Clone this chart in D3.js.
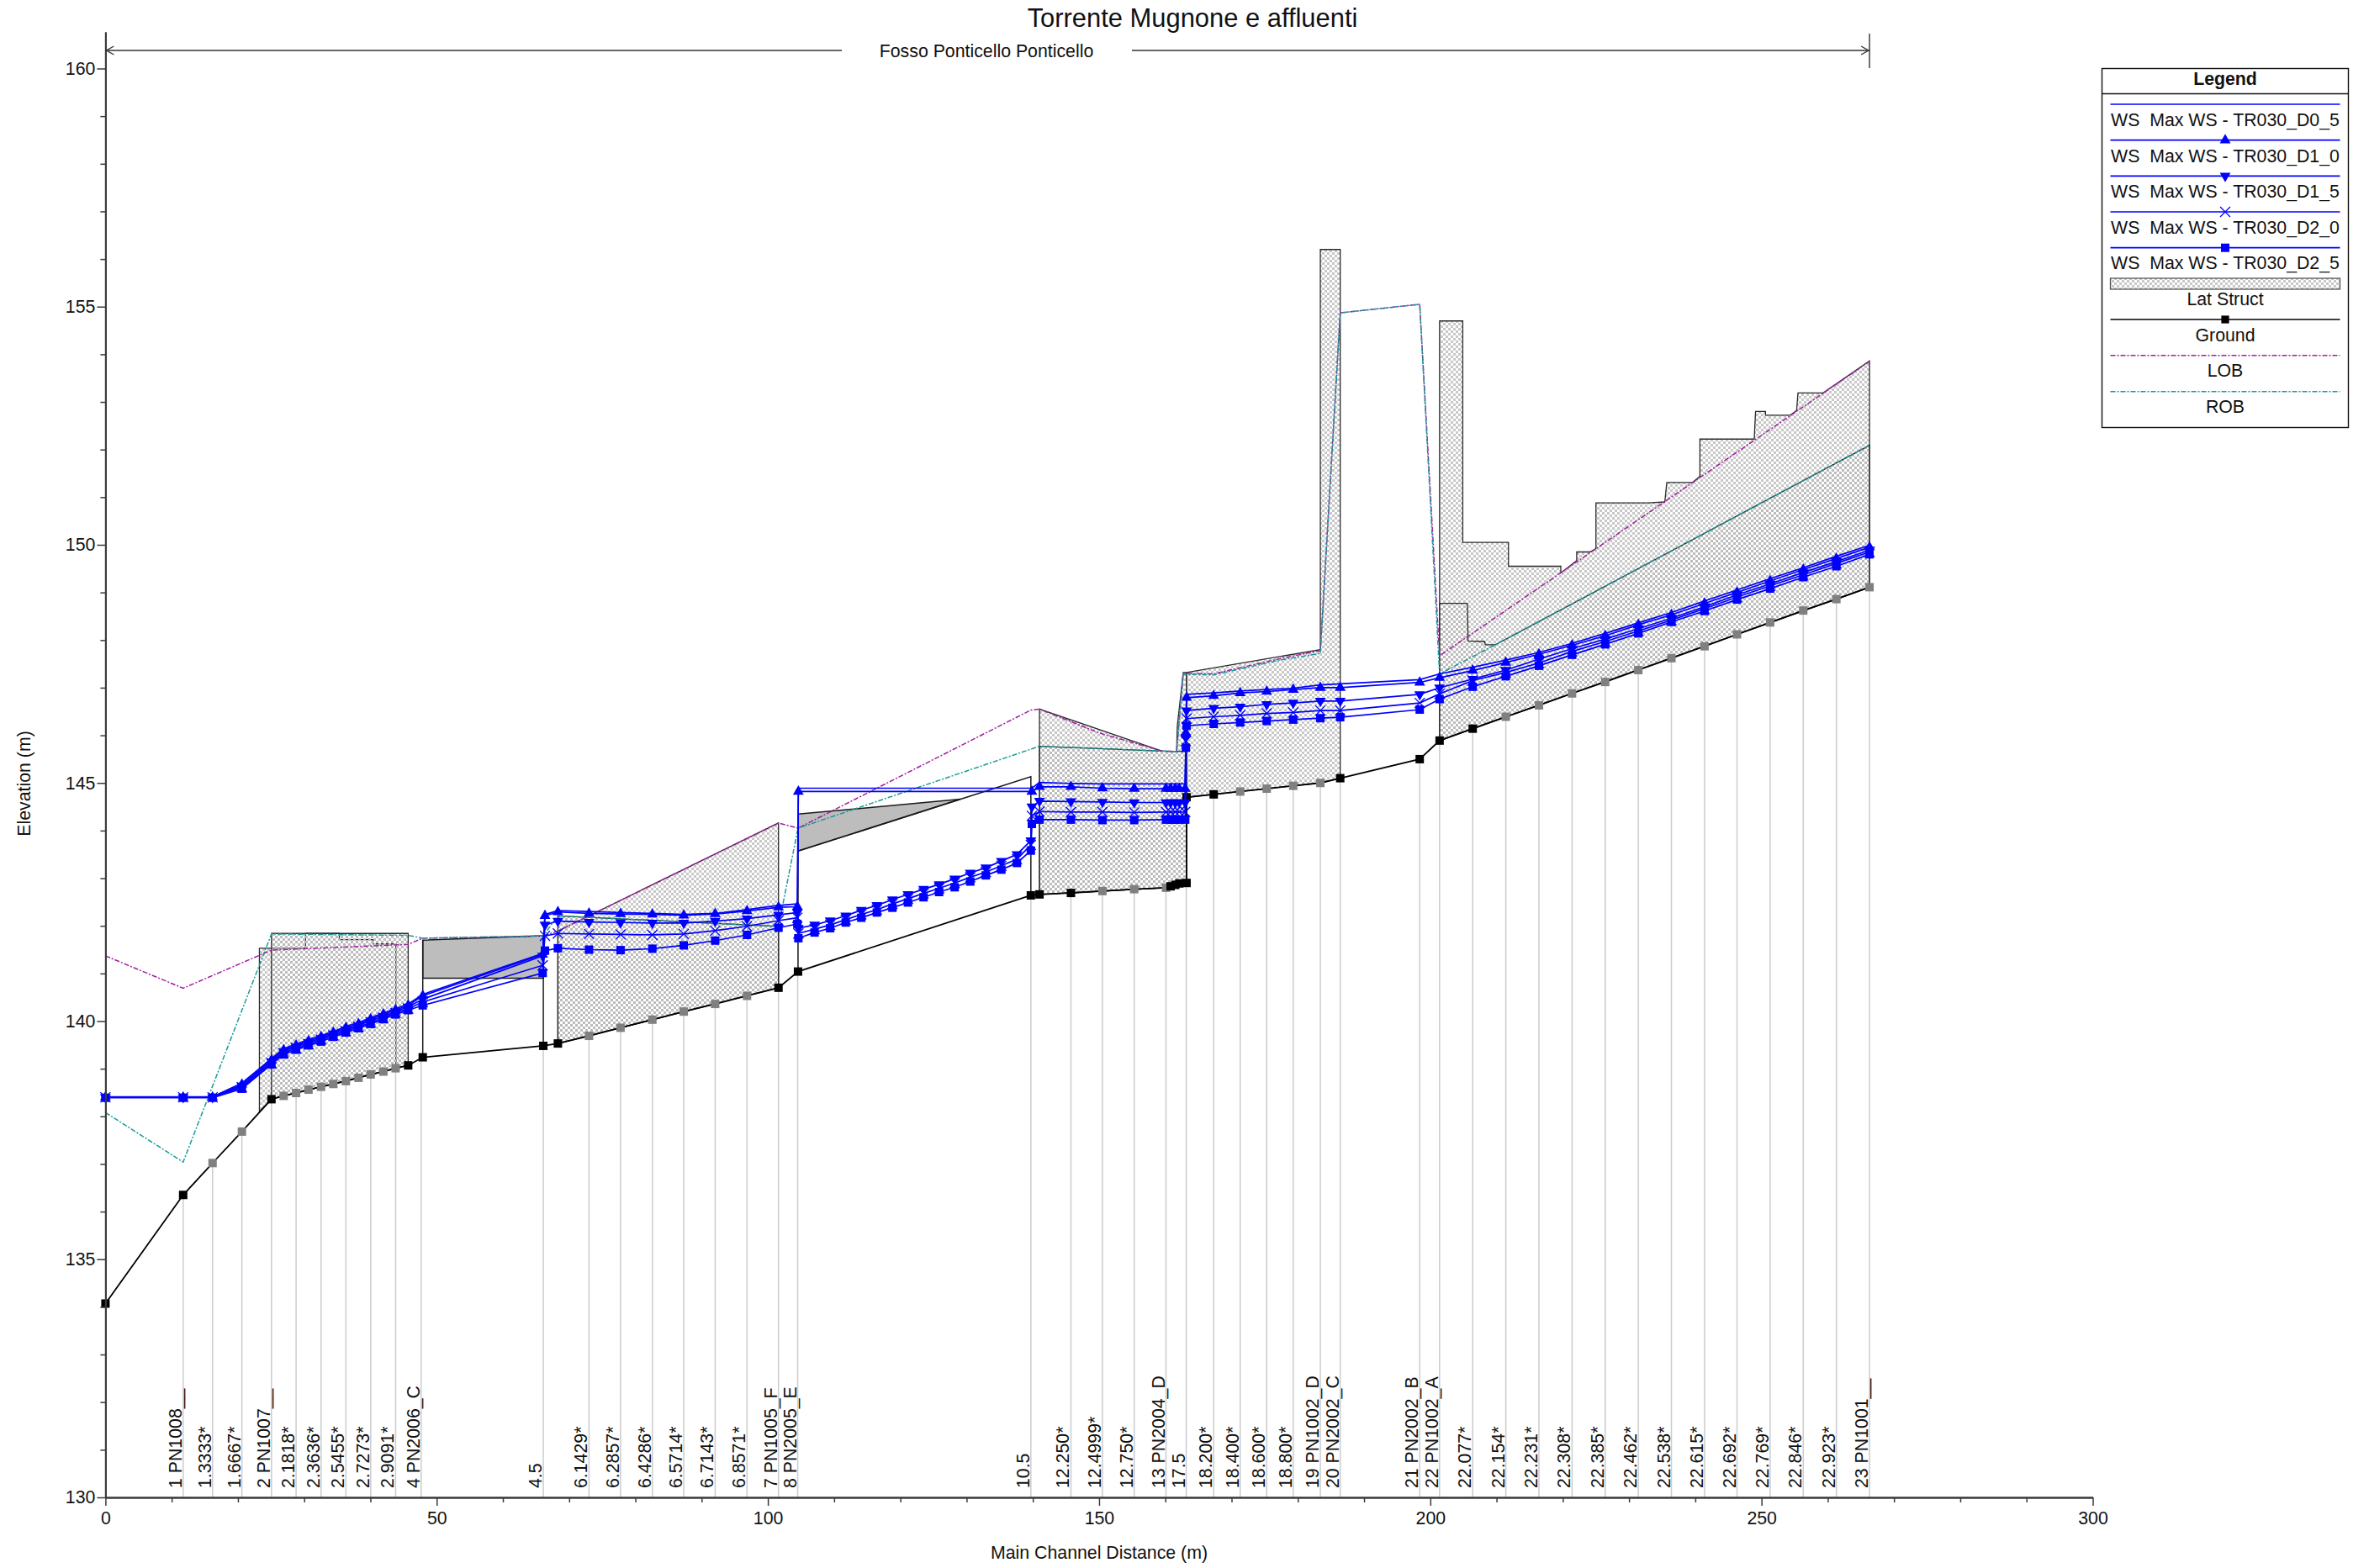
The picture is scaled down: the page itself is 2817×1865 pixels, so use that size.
<!DOCTYPE html>
<html>
<head>
<meta charset="utf-8">
<title>Torrente Mugnone e affluenti</title>
<script src="https://d3js.org/d3.v7.min.js"></script>
<style>
html,body{margin:0;padding:0;background:#fff}
svg{display:block}
text{font-family:"Liberation Sans",Arial,sans-serif;fill:#111;white-space:pre}
</style>
</head>
<body>
<svg id="chart" width="2817" height="1865"></svg>
<script>
const chartTitle = "Torrente Mugnone e affluenti";
const reachName = "Fosso Ponticello Ponticello";
const xTitle = "Main Channel Distance (m)";
const yTitle = "Elevation (m)";
const xMajor = [0,50,100,150,200,250,300];
const yMajor = [130,135,140,145,150,155,160];

// Ground profile: black = cross section, grey = interpolated, none = hidden marker
const groundX = [0,11.73,16.17,20.6,25.06,26.9,28.78,30.65,32.55,34.4,36.3,38.2,40.04,41.95,43.8,45.7,47.9,66.1,68.3,73,77.76,82.56,87.3,92.04,96.85,101.6,104.55,139.7,141,145.75,150.5,155.3,160.1,160.8,161.5,162.1,163.2,163.2,167.3,171.3,175.3,179.3,183.4,186.4,198.4,201.4,206.4,211.4,216.4,221.4,226.4,231.4,236.4,241.4,246.3,251.3,256.3,261.3,266.3];
const groundY = [134.07,136.35,137.02,137.68,138.36,138.43,138.49,138.56,138.62,138.68,138.74,138.81,138.88,138.94,139.01,139.07,139.24,139.48,139.53,139.69,139.86,140.03,140.2,140.36,140.53,140.7,141.04,142.64,142.66,142.69,142.73,142.77,142.8,142.83,142.86,142.89,142.9,144.7,144.76,144.82,144.88,144.94,145.0,145.1,145.5,145.89,146.14,146.39,146.63,146.88,147.12,147.37,147.62,147.87,148.12,148.37,148.62,148.86,149.11];
const groundKind = "bbggbggggggggggbbbbggggggbbbbbgggbbbbbbggggbbbbggggggggggggb".split("");

// Water surface stations
const wsX = [0,11.73,16.17,20.6,25.06,26.9,28.78,30.65,32.55,34.4,36.3,38.2,40.04,41.95,43.8,45.7,47.9,66.0,66.35,68.3,73,77.76,82.56,87.3,92.04,96.85,101.6,104.45,104.6,107.05,109.4,111.75,114.1,116.45,118.8,121.15,123.5,125.85,128.2,130.55,132.9,135.25,137.6,139.7,139.85,141,145.75,150.5,155.3,160.1,160.8,161.5,162.1,163.0,163.1,163.2,167.3,171.3,175.3,179.3,183.4,186.4,198.4,201.4,206.4,211.4,216.4,221.4,226.4,231.4,236.4,241.4,246.3,251.3,256.3,261.3,266.3];
const wsD05 = [138.41,138.41,138.41,138.7,139.21,139.42,139.52,139.61,139.7,139.78,139.89,139.97,140.07,140.17,140.26,140.36,140.56,141.42,142.24,142.32,142.3,142.28,142.26,142.24,142.26,142.34,142.43,142.46,144.89,null,null,null,null,null,null,null,null,null,null,null,null,null,null,null,144.89,145.01,144.99,144.98,144.98,144.98,144.98,144.98,144.98,144.98,146.1,146.86,146.89,146.93,146.96,146.99,147.06,147.08,147.17,147.29,147.43,147.58,147.74,147.93,148.14,148.36,148.58,148.82,149.05,149.29,149.52,149.76,149.99];
const wsD10 = [138.4,138.4,138.4,138.67,139.18,139.39,139.49,139.58,139.67,139.76,139.86,139.94,140.04,140.14,140.23,140.33,140.53,141.4,142.21,142.29,142.26,142.25,142.24,142.22,142.25,142.31,142.39,142.4,144.82,null,null,null,null,null,null,null,null,null,null,null,null,null,null,null,144.82,144.92,144.92,144.89,144.88,144.88,144.88,144.88,144.88,144.88,146.05,146.79,146.83,146.89,146.92,146.96,147,147,147.11,147.21,147.36,147.53,147.7,147.89,148.09,148.32,148.53,148.77,149,149.24,149.48,149.71,149.95];
const wsD15 = [138.4,138.4,138.4,138.64,139.15,139.36,139.46,139.55,139.64,139.73,139.82,139.91,140.01,140.1,140.2,140.3,140.46,141.37,142.02,142.1,142.08,142.07,142.06,142.06,142.1,142.15,142.23,142.28,141.95,142.02,142.11,142.21,142.33,142.43,142.55,142.66,142.77,142.87,142.99,143.11,143.22,143.36,143.5,143.79,144.5,144.62,144.61,144.6,144.59,144.59,144.59,144.59,144.59,144.59,145.96,146.52,146.57,146.6,146.65,146.68,146.72,146.72,146.86,147,147.18,147.37,147.6,147.82,148.02,148.24,148.46,148.7,148.95,149.18,149.42,149.65,149.89];
const wsD20 = [138.4,138.4,138.4,138.61,139.12,139.33,139.43,139.52,139.61,139.7,139.79,139.88,139.97,140.07,140.17,140.26,140.4,141.17,141.79,141.84,141.83,141.82,141.81,141.83,141.9,141.99,142.11,142.17,141.84,141.93,142.02,142.13,142.24,142.34,142.46,142.57,142.68,142.79,142.9,143.02,143.13,143.26,143.4,143.7,144.31,144.4,144.39,144.39,144.38,144.39,144.39,144.39,144.39,144.39,145.88,146.35,146.39,146.42,146.46,146.48,146.52,146.52,146.68,146.87,147.15,147.32,147.52,147.76,147.97,148.19,148.42,148.66,148.9,149.14,149.37,149.61,149.85];
const wsD25 = [138.39,138.39,138.39,138.58,139.09,139.3,139.4,139.49,139.57,139.67,139.76,139.85,139.94,140.04,140.14,140.23,140.33,141.01,141.48,141.53,141.5,141.49,141.52,141.59,141.69,141.81,141.96,142.04,141.74,141.86,141.95,142.07,142.17,142.28,142.38,142.49,142.6,142.71,142.81,142.93,143.06,143.18,143.32,143.58,144.14,144.23,144.23,144.22,144.22,144.23,144.23,144.23,144.23,144.23,145.74,146.2,146.24,146.27,146.3,146.33,146.36,146.38,146.54,146.76,147.02,147.24,147.46,147.69,147.91,148.14,148.38,148.61,148.85,149.08,149.32,149.55,149.8];

// Bank stations
const lobX = [0,11.73,25.06,45.7,47.9,66.1,68.3,101.6,104.55,139.7,141,150,159.5,161.7,162.7,167.3,177.3,183.4,186.4,198.4,201.4,266.3];
const lobY = [141.37,140.69,141.49,141.61,141.74,141.79,141.89,144.16,144.05,146.53,146.55,146.05,145.67,145.66,147.3,147.29,147.61,147.78,154.87,155.05,147.67,153.85];
const robX = [0,11.73,25.06,45.7,47.9,66.1,68.3,101.6,104.55,141,159.5,161.7,162.7,167.3,177.3,183.4,186.4,198.4,201.4,209.8,266.3];
const robY = [138.08,137.04,141.83,141.8,141.74,141.79,142.21,141.99,144.05,145.77,145.67,145.66,147.28,147.27,147.58,147.72,154.87,155.05,147.29,147.9,152.09];

// Lateral structures (hatched)
const latA = [[23.24,141.53],[30.2,141.53],[30.2,141.84],[35.3,141.84],[35.3,141.71],[40.4,141.71],[40.4,141.62],[43.85,141.62],[43.85,139.01],[41.95,138.94],[38.2,138.81],[34.4,138.68],[30.65,138.56],[26.9,138.43],[25.06,138.36],[23.24,138.1]];
const latB = [[25.06,141.84],[45.7,141.84],[45.7,139.07],[43.8,139.01],[38.2,138.81],[32.55,138.62],[26.9,138.43],[25.06,138.36]];
const latC = [[68.3,141.89],[101.6,144.16],[101.6,140.7],[68.3,139.53]];
const latC2 = [[68.3,142.21],[101.6,141.99],[101.6,140.7],[68.3,139.53]];
const latD = [[141,146.55],[159.5,145.67],[161.7,145.66],[161.8,146.19],[162.7,147.32],[163.2,147.32],[163.2,142.9],[160.1,142.8],[141,142.66]];
const latD2 = [[141,145.77],[159.5,145.67],[163.2,145.66],[163.2,142.9],[160.1,142.8],[141,142.66]];
const latE = [[163.2,147.32],[183.4,147.8],[183.4,156.2],[186.4,156.2],[186.4,145.1],[183.4,145.0],[163.2,144.7]];
const latF = [[201.4,154.7],[204.9,154.7],[204.9,150.05],[211.8,150.05],[211.8,149.55],[219.7,149.55],[219.7,149.41],[222.1,149.67],[222.1,149.85],[224.1,149.85],[225,149.92],[225,150.88],[232.9,150.88],[235.4,150.9],[235.7,151.31],[239.6,151.31],[240.7,151.44],[240.7,152.22],[248.9,152.22],[249.1,152.8],[250.6,152.8],[250.6,152.72],[254.3,152.72],[255.3,152.82],[255.5,153.19],[259.3,153.19],[266.3,153.86],[266.3,149.11],[201.4,145.89]];
const latF2 = [[201.4,148.77],[205.6,148.77],[205.7,147.98],[208.2,147.97],[208.3,147.9],[209.8,147.9],[266.3,152.09],[266.3,149.11],[201.4,145.89]];
const latOuter = [latA,latC,latD,latE,latF];
const latInner = [latB,latC2,latD2,latF2];

// Lateral structures (solid grey)
const solidG = [[47.9,141.7],[66.1,141.79],[66.1,140.9],[47.9,140.9]];
const solidH = [[104.55,144.345],[129.1,144.66],[104.55,143.57]];
const solidPolys = [solidG,solidH];
const latEdges = [
  [[47.9,139.24],[47.9,141.7]],
  [[66.1,139.48],[66.1,141.79]],
  [[104.55,141.04],[104.55,144.345]],
  [[129.1,144.66],[139.7,145.13],[139.7,142.64]],
  [[104.55,143.57],[129.1,144.66]]
];

const stationLabels = ["1 PN1008__","1.3333*","1.6667*","2 PN1007__","2.1818*","2.3636*","2.5455*","2.7273*","2.9091*","4 PN2006_C","4.5","6.1429*","6.2857*","6.4286*","6.5714*","6.7143*","6.8571*","7 PN1005_F","8 PN2005_E","10.5","12.250*","12.4999*","12.750*","13 PN2004_D","17.5","18.200*","18.400*","18.600*","18.800*","19 PN1002_D","20 PN2002_C","21 PN2002_B","22 PN1002_A","22.077*","22.154*","22.231*","22.308*","22.385*","22.462*","22.538*","22.615*","22.692*","22.769*","22.846*","22.923*","23 PN1001__"];
const stationLabelX = [11.73,16.17,20.6,25.06,28.78,32.55,36.3,40.04,43.8,47.65,66.1,73,77.76,82.56,87.3,92.04,96.85,101.6,104.5,139.7,145.75,150.5,155.3,160.1,163.15,167.3,171.3,175.3,179.3,183.4,186.4,198.4,201.4,206.4,211.4,216.4,221.4,226.4,231.4,236.4,241.4,246.3,251.3,256.3,261.3,266.3];
const stationLabelFloor = [136.35,137.02,137.68,138.36,138.49,138.62,138.74,138.88,139.01,139.24,139.48,139.69,139.86,140.03,140.2,140.36,140.53,140.7,141.04,142.64,142.69,142.73,142.77,142.8,144.7,144.76,144.82,144.88,144.94,145,145.1,145.5,145.89,146.14,146.39,146.63,146.88,147.12,147.37,147.62,147.87,148.12,148.37,148.62,148.86,149.11];

const legendWS = ["WS  Max WS - TR030_D0_5","WS  Max WS - TR030_D1_0","WS  Max WS - TR030_D1_5","WS  Max WS - TR030_D2_0","WS  Max WS - TR030_D2_5"];

// ------------------------------------------------------------
const BLUE = "#0000ff", LOBC = "#a0209f", ROBC = "#1a9a9a", INK = "#3a3a3a";
const FS = 21.3;
const svg = d3.select("#chart");
const x = d3.scaleLinear().domain([0,300]).range([125.4,2488.5]);
const y = d3.scaleLinear().domain([130,160]).range([1781,81.5]);
const yTop = 38;

const defs = svg.append("defs");
function checker(id,colour){
  const p = defs.append("pattern").attr("id",id).attr("patternUnits","userSpaceOnUse").attr("width",6).attr("height",6);
  p.append("rect").attr("width",3).attr("height",3).attr("fill",colour).attr("shape-rendering","crispEdges");
  p.append("rect").attr("x",3).attr("y",3).attr("width",3).attr("height",3).attr("fill",colour).attr("shape-rendering","crispEdges");
}
checker("hatch","#c8c8c8");
checker("hatchInner","#bcbcbc");

const polyLine = d3.line().x(d=>x(d[0])).y(d=>y(d[1]));
const closed = pts => polyLine(pts)+"Z";

// hatched structures
svg.append("g").selectAll("path").data(latOuter).join("path")
  .attr("d",closed).attr("fill","url(#hatch)").attr("stroke","#2a2a2a").attr("stroke-width",1.3);
svg.append("g").selectAll("path").data(latInner).join("path")
  .attr("d",closed).attr("fill","url(#hatchInner)").attr("stroke","#2a2a2a").attr("stroke-width",1.3);
// solid structures
svg.append("g").selectAll("path").data(solidPolys).join("path")
  .attr("d",closed).attr("fill","#bdbdbd").attr("stroke","#1a1a1a").attr("stroke-width",1.5);
svg.append("g").selectAll("path").data(latEdges).join("path")
  .attr("d",polyLine).attr("fill","none").attr("stroke","#1a1a1a").attr("stroke-width",1.5);

// station lines
svg.append("g").selectAll("line").data(stationLabelX).join("line")
  .attr("x1",d=>x(d)).attr("x2",d=>x(d))
  .attr("y1",(d,i)=>y(stationLabelFloor[i])).attr("y2",y(130))
  .attr("stroke","#cccccc").attr("stroke-width",1.5);

// LOB / ROB
const pair = (xs,ys)=>xs.map((v,i)=>[v,ys[i]]);
svg.append("path").attr("d",polyLine(pair(lobX,lobY))).attr("fill","none")
  .attr("stroke",LOBC).attr("stroke-width",1.5).attr("stroke-dasharray","6 2 2 2");
svg.append("path").attr("d",polyLine(pair(robX,robY))).attr("fill","none")
  .attr("stroke",ROBC).attr("stroke-width",1.5).attr("stroke-dasharray","6 2 2 2");

// ground
svg.append("path").attr("d",polyLine(pair(groundX,groundY))).attr("fill","none")
  .attr("stroke","#000").attr("stroke-width",1.8);
const sq = d3.symbol(d3.symbolSquare,85)();
const sqG = d3.symbol(d3.symbolSquare,100)();
svg.append("g").selectAll("path").data(groundX.map((v,i)=>({x:v,y:groundY[i],k:groundKind[i]})))
  .join("path").attr("d",sqG)
  .attr("transform",d=>`translate(${x(d.x)},${y(d.y)})`)
  .attr("fill",d=>d.k==="b"?"#000":"#808080");

// water surfaces
const wsSeries = [
  {v:wsD05,m:null},{v:wsD10,m:"up"},{v:wsD15,m:"down"},{v:wsD20,m:"x"},{v:wsD25,m:"sq"}
];
const triPath = d3.symbol(d3.symbolTriangle,72)();
const xPath = d3.symbol(d3.symbolX,95)();
const sqPath = d3.symbol(d3.symbolSquare,100)();
function marker(sel,m){
  if(m==="up") sel.attr("d",triPath).attr("fill",BLUE);
  else if(m==="down") sel.attr("d",triPath).attr("fill",BLUE);
  else if(m==="x") sel.attr("d",xPath).attr("fill","none").attr("stroke",BLUE).attr("stroke-width",1.3);
  else if(m==="sq") sel.attr("d",sqPath).attr("fill",BLUE);
}
wsSeries.forEach(s=>{
  const pts = wsX.map((v,i)=>[v,s.v[i]]).filter(d=>d[1]!==null);
  const g = svg.append("g");
  g.append("path").attr("d",polyLine(pts)).attr("fill","none").attr("stroke",BLUE).attr("stroke-width",1.7);
  if(s.m){
    const r = s.m==="down"?" rotate(180)":"";
    g.selectAll("path.m").data(pts).join("path").attr("class","m")
      .call(marker,s.m)
      .attr("transform",d=>`translate(${x(d[0])},${y(d[1])})${r}`);
  }
});

// axes
const axisStyle = g=>{
  g.selectAll("path.domain").attr("stroke",INK).attr("stroke-width",2);
  g.selectAll(".tick line").attr("stroke",INK).attr("stroke-width",1.5);
  g.selectAll("text").attr("font-size",FS).attr("font-family",'"Liberation Sans",Arial,sans-serif').attr("fill","#111");
};
const xMinorVals = d3.range(0,301,10).filter(v=>!xMajor.includes(v));
const yMinorVals = d3.range(131,161,1).filter(v=>!yMajor.includes(v));
const gx = svg.append("g").attr("transform",`translate(0,${y(130)})`);
gx.call(d3.axisBottom(x).tickValues(xMajor).tickSize(10).tickSizeOuter(0).tickPadding(7)).call(axisStyle);
svg.append("g").attr("transform",`translate(0,${y(130)})`)
  .call(d3.axisBottom(x).tickValues(xMinorVals).tickSize(6).tickSizeOuter(0).tickFormat(""))
  .call(axisStyle);
const yAxisScale = y.copy().domain([130,y.invert(yTop)]).range([y(130),yTop]);
const gy = svg.append("g").attr("transform",`translate(${x(0)},0)`);
gy.call(d3.axisLeft(yAxisScale).tickValues(yMajor).tickSize(10).tickSizeOuter(0).tickPadding(2)).call(axisStyle);
svg.append("g").attr("transform",`translate(${x(0)},0)`)
  .call(d3.axisLeft(yAxisScale).tickValues(yMinorVals).tickSize(6).tickSizeOuter(0).tickFormat(""))
  .call(axisStyle);

// station labels
svg.append("g").selectAll("text").data(stationLabels).join("text")
  .attr("transform",(d,i)=>`translate(${x(stationLabelX[i])-2},1770) rotate(-90)`)
  .attr("font-size",FS).attr("fill","#111").text(d=>d);

// titles
svg.append("text").attr("x",1418).attr("y",32).attr("text-anchor","middle").attr("font-size",30.9).text(chartTitle);
svg.append("text").attr("x",1307).attr("y",1854).attr("text-anchor","middle").attr("font-size",FS).text(xTitle);
svg.append("text").attr("transform","translate(36,932) rotate(-90)").attr("text-anchor","middle").attr("font-size",FS).text(yTitle);

// reach banner
const bannerY = 60, bannerEnd = x(266.3), bannerStart = x(0);
const bannerLine = d3.line();
svg.append("g").selectAll("path").data([
  [[bannerStart,bannerY],[1001,bannerY]],
  [[1346,bannerY],[bannerEnd,bannerY]],
  [[bannerStart+10,bannerY-5],[bannerStart+1,bannerY],[bannerStart+10,bannerY+5]],
  [[bannerEnd-10,bannerY-5],[bannerEnd-1,bannerY],[bannerEnd-10,bannerY+5]],
  [[bannerEnd,40],[bannerEnd,81]]
]).join("path").attr("d",bannerLine).attr("fill","none").attr("stroke","#333").attr("stroke-width",1.4);
svg.append("text").attr("x",1173).attr("y",68).attr("text-anchor","middle").attr("font-size",FS).text(reachName);

// legend
const lg = svg.append("g");
const LX0=2499.5, LX1=2792.5, LY0=81.5, LY1=508.5, LA=2509.5, LB=2782.5, LC=2646;
lg.append("rect").attr("x",LX0).attr("y",LY0).attr("width",LX1-LX0).attr("height",LY1-LY0).attr("fill","#fff").attr("stroke","#111").attr("stroke-width",1.4);
lg.append("line").attr("x1",LX0).attr("x2",LX1).attr("y1",111.5).attr("y2",111.5).attr("stroke","#111").attr("stroke-width",1.3);
lg.append("text").attr("x",LC).attr("y",101).attr("text-anchor","middle").attr("font-size",FS).attr("font-weight","bold").text("Legend");
const legendLineY=[124,166.7,209.3,252,294.7], legendTextY=[150,192.5,235,278,320];
wsSeries.forEach((s,i)=>{
  lg.append("line").attr("x1",LA).attr("x2",LB).attr("y1",legendLineY[i]).attr("y2",legendLineY[i]).attr("stroke",BLUE).attr("stroke-width",1.7);
  if(s.m){
    const r = s.m==="down"?" rotate(180)":"";
    lg.append("path").call(marker,s.m).attr("transform",`translate(${LC},${legendLineY[i]})${r}`);
  }
  lg.append("text").attr("x",LC).attr("y",legendTextY[i]).attr("text-anchor","middle").attr("font-size",FS).text(legendWS[i]);
});
lg.append("rect").attr("x",LA).attr("y",331).attr("width",LB-LA).attr("height",13).attr("fill","url(#hatch)").attr("stroke","#555").attr("stroke-width",1.3);
lg.append("text").attr("x",LC).attr("y",362.7).attr("text-anchor","middle").attr("font-size",FS).text("Lat Struct");
lg.append("line").attr("x1",LA).attr("x2",LB).attr("y1",380).attr("y2",380).attr("stroke","#000").attr("stroke-width",1.6);
lg.append("path").attr("d",sq).attr("transform",`translate(${LC},380)`).attr("fill","#000");
lg.append("text").attr("x",LC).attr("y",405.7).attr("text-anchor","middle").attr("font-size",FS).text("Ground");
lg.append("line").attr("x1",LA).attr("x2",LB).attr("y1",422.7).attr("y2",422.7).attr("stroke",LOBC).attr("stroke-width",1.5).attr("stroke-dasharray","6 2 2 2");
lg.append("text").attr("x",LC).attr("y",447.7).attr("text-anchor","middle").attr("font-size",FS).text("LOB");
lg.append("line").attr("x1",LA).attr("x2",LB).attr("y1",465.7).attr("y2",465.7).attr("stroke",ROBC).attr("stroke-width",1.5).attr("stroke-dasharray","6 2 2 2");
lg.append("text").attr("x",LC).attr("y",490.7).attr("text-anchor","middle").attr("font-size",FS).text("ROB");
</script>
</body>
</html>
